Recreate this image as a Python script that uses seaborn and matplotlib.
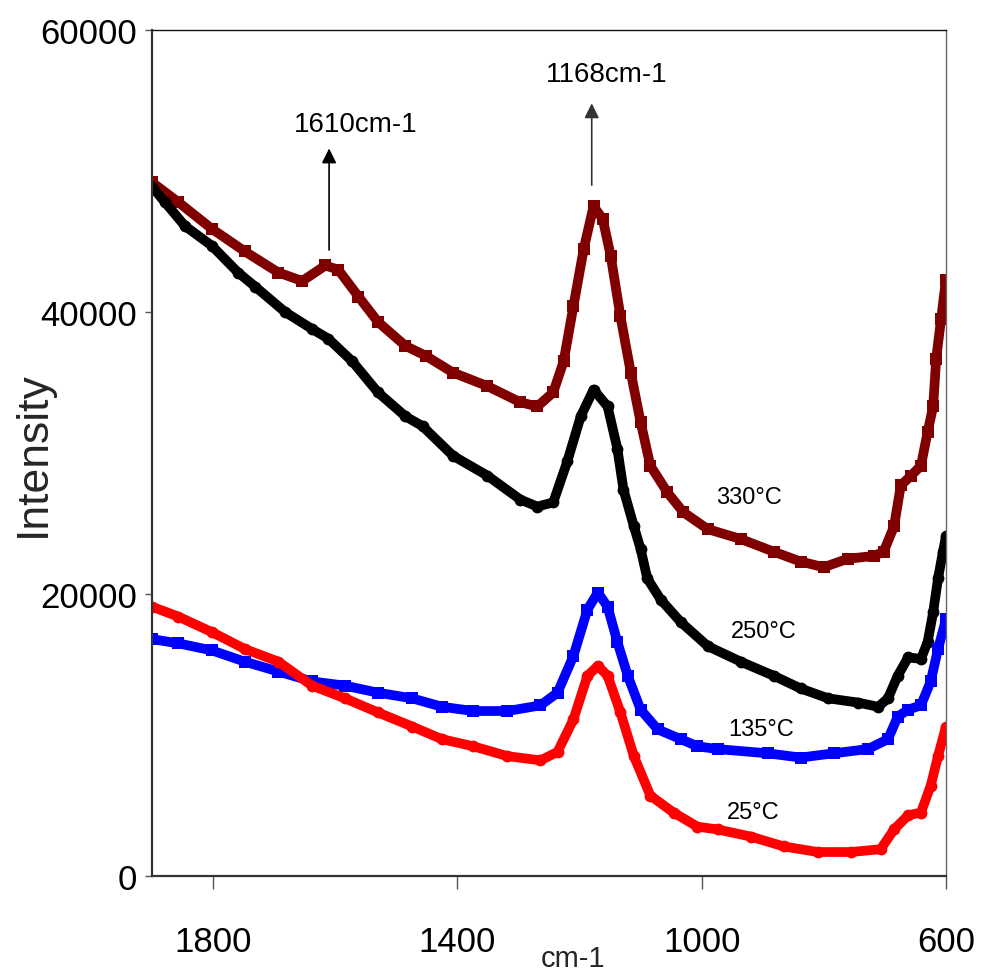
import matplotlib
matplotlib.use("Agg")
import matplotlib.pyplot as plt
import seaborn as sns
import pandas as pd
from matplotlib import font_manager as fm

# ---------------- data ----------------
wn_330 = [1900, 1857, 1802, 1748, 1693, 1654, 1616, 1595, 1562, 1530, 1485, 1452, 1407,
          1351, 1297, 1269, 1243, 1226, 1210, 1193, 1177, 1162, 1149, 1133, 1116, 1100,
          1084, 1056, 1030, 990, 936, 882, 838, 800, 761, 718, 702, 685, 674, 657, 641,
          630, 621, 616, 608, 600]
int_330 = [49200, 47800, 45900, 44300, 42800, 42200, 43300, 43000, 41100, 39300, 37600,
           36900, 35700, 34750, 33600, 33300, 34300, 36500, 40400, 44500, 47500, 46600,
           44000, 39700, 35700, 32200, 29100, 27200, 25800, 24600, 23900, 23000, 22300,
           21900, 22500, 22700, 23000, 24800, 27700, 28400, 29100, 31500, 33300, 36700,
           39500, 42300]

wn_250 = [1900, 1879, 1846, 1802, 1759, 1731, 1682, 1638, 1611, 1572, 1530, 1485, 1457,
          1407, 1351, 1297, 1269, 1243, 1220, 1198, 1177, 1154, 1138, 1128, 1111, 1100,
          1089, 1067, 1034, 990, 936, 882, 838, 793, 744, 711, 695, 679, 662, 641, 630,
          621, 613, 605, 600]
int_250 = [48900, 47800, 46100, 44700, 42800, 41800, 40000, 38800, 38100, 36500, 34300,
           32600, 31900, 29800, 28400, 26700, 26200, 26500, 29400, 32600, 34500, 33300,
           30300, 27400, 24800, 23200, 21100, 19600, 18000, 16300, 15200, 14200, 13300,
           12600, 12300, 12000, 12600, 14200, 15500, 15400, 16600, 18700, 21100, 23000,
           24100]

wn_135 = [1900, 1857, 1802, 1748, 1693, 1638, 1584, 1530, 1474, 1425, 1374, 1318, 1264,
          1236, 1210, 1187, 1170, 1154, 1138, 1121, 1100, 1072, 1034, 1007, 974, 892,
          838, 784, 728, 695, 679, 662, 641, 625, 613, 600]
int_135 = [16800, 16500, 16000, 15200, 14500, 13800, 13500, 13000, 12600, 12000, 11700,
           11700, 12100, 13000, 15600, 18900, 20100, 19100, 16600, 14200, 11800, 10400,
           9700, 9200, 9000, 8700, 8400, 8700, 9000, 9700, 11300, 11800, 12100, 13800,
           16100, 18200]

wn_25 = [1900, 1857, 1802, 1748, 1693, 1638, 1584, 1530, 1474, 1425, 1374, 1318, 1264,
         1236, 1210, 1187, 1170, 1154, 1133, 1111, 1084, 1046, 1007, 974, 920, 866, 810,
         756, 707, 685, 662, 641, 625, 613, 600]
int_25 = [19100, 18400, 17300, 16100, 15200, 13500, 12600, 11600, 10600, 9700, 9200,
          8500, 8200, 8800, 11100, 14200, 14900, 14200, 11600, 8500, 5700, 4500, 3500,
          3300, 2800, 2100, 1700, 1700, 1900, 3300, 4300, 4500, 6400, 8500, 10600]

series_names = ["330°C", "250°C", "135°C", "25°C"]
y_ticks = [0, 20000, 40000, 60000]
x_ticks = [1800, 1400, 1000, 600]
peak_labels = ["1610cm-1", "1168cm-1"]
peak_pos = [1610, 1180]

# ---------------- style ----------------
sns.set_style("ticks")


def has_font(name):
    try:
        fm.findfont(name, fallback_to_default=False)
        return True
    except Exception:
        return False


narrow = [f for f in ["Liberation Sans Narrow", "DejaVu Sans Condensed",
                      "Liberation Sans", "DejaVu Sans"] if has_font(f)]
plt.rcParams["font.family"] = narrow
plt.rcParams["text.color"] = "black"
plt.rcParams["xtick.color"] = "black"
plt.rcParams["ytick.color"] = "black"
regular = ["Liberation Sans", "DejaVu Sans"]

fig = plt.figure(figsize=(9.92, 9.79), dpi=100)
ax = fig.add_axes([0.1532, 0.1042, 0.8004, 0.8641])

frames = []
for name, wn, iv in [("330°C", wn_330, int_330), ("250°C", wn_250, int_250),
                     ("135°C", wn_135, int_135), ("25°C", wn_25, int_25)]:
    frames.append(pd.DataFrame({"wn": wn, "intensity": iv, "series": name}))
df = pd.concat(frames, ignore_index=True)

styles = {
    "330°C": dict(color="#800000", marker="s"),
    "250°C": dict(color="#000000", marker="o"),
    "135°C": dict(color="#0000FF", marker="s"),
    "25°C": dict(color="#FF0000", marker="o"),
}
for name in series_names:
    sub = df[df["series"] == name]
    st = styles[name]
    sns.lineplot(data=sub, x="wn", y="intensity", ax=ax, color=st["color"],
                 lw=7.0, marker=st["marker"], markersize=8.5, markeredgewidth=0,
                 sort=False, estimator=None, legend=False,
                 solid_capstyle="butt", solid_joinstyle="round")

ax.set_xlim(1900, 600)
ax.set_ylim(0, 60000)
ax.set_xticks(x_ticks)
ax.set_xticklabels([str(v) for v in x_ticks])
ax.set_yticks(y_ticks)
ax.set_yticklabels([str(v) for v in y_ticks])

for s in ["left", "bottom"]:
    ax.spines[s].set_linewidth(1.6)
    ax.spines[s].set_color("#333333")
for s in ["top", "right"]:
    ax.spines[s].set_visible(True)
    ax.spines[s].set_linewidth(1.0)
    ax.spines[s].set_color("#111111")
ax.spines["right"].set_color("#666666")

ax.tick_params(axis="y", direction="out", length=5, width=1, color="#555555",
               pad=6, labelsize=25, labelcolor="black")
ax.tick_params(axis="x", direction="out", length=9, width=1, color="#555555",
               pad=26, labelsize=25, labelcolor="black")

ax.set_xlabel("cm-1", fontsize=21)
ax.xaxis.set_label_coords(0.53, -0.080)
ax.xaxis.label.set_va("top")
ax.set_ylabel("Intensity", fontsize=32, family=regular)
ax.yaxis.set_label_coords(-0.124, 0.5)

# peak annotations
ax.annotate("", xy=(peak_pos[0], 51600), xytext=(peak_pos[0], 44400),
            arrowprops=dict(arrowstyle="-|>", color="black", lw=1.2,
                            mutation_scale=22, shrinkA=0, shrinkB=0))
ax.text(1567, 53300, peak_labels[0], fontsize=20, ha="center", va="center")
ax.annotate("", xy=(peak_pos[1], 54800), xytext=(peak_pos[1], 49000),
            arrowprops=dict(arrowstyle="-|>", color="#333333", lw=1.2,
                            mutation_scale=22, shrinkA=0, shrinkB=0))
ax.text(1156, 56900, peak_labels[1], fontsize=20, ha="center", va="center")

# curve labels
label_pos = {"330°C": (923, 26900), "250°C": (898, 17400),
             "135°C": (903, 10400), "25°C": (916, 4540)}
for name in series_names:
    x, y = label_pos[name]
    ax.text(x, y, name, fontsize=17, ha="center", va="center")

fig.savefig("out.png", dpi=100)
